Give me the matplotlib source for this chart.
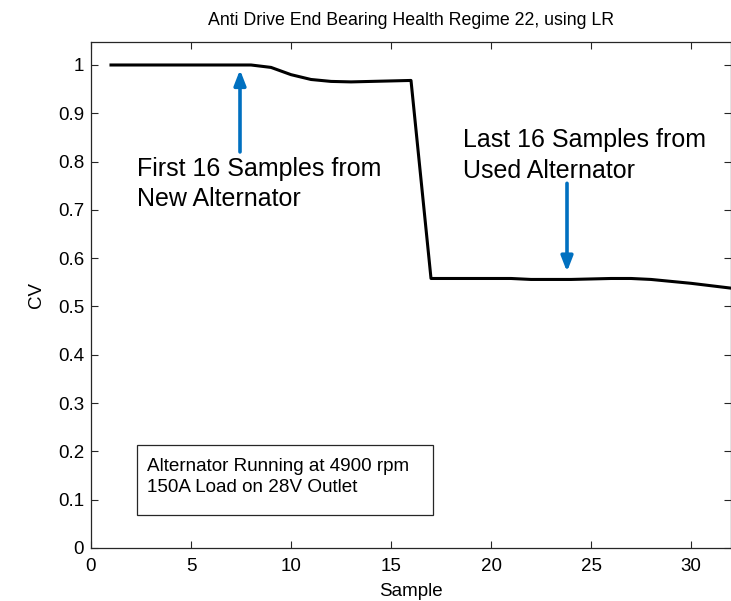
import matplotlib
matplotlib.use("Agg")
import matplotlib.pyplot as plt
from matplotlib.patches import Rectangle

plt.rcParams['font.family'] = ['Liberation Sans', 'DejaVu Sans']

samples = list(range(1, 33))
cv = [1.0, 1.0, 1.0, 1.0, 1.0, 1.0, 1.0, 1.0,
      0.995, 0.980, 0.970, 0.966, 0.965, 0.966, 0.967, 0.968,
      0.558, 0.558, 0.558, 0.558, 0.558, 0.556, 0.556, 0.556,
      0.557, 0.558, 0.558, 0.556, 0.552, 0.548, 0.543, 0.538]
xticks = [0, 5, 10, 15, 20, 25, 30]
yticks = [0, 0.1, 0.2, 0.3, 0.4, 0.5, 0.6, 0.7, 0.8, 0.9, 1.0]
ytick_labels = ['0', '0.1', '0.2', '0.3', '0.4', '0.5', '0.6', '0.7', '0.8', '0.9', '1']

title = "Anti Drive End Bearing Health Regime 22, using LR"
note_new = "First 16 Samples from\nNew Alternator"
note_used = "Last 16 Samples from\nUsed Alternator"
box_text = "Alternator Running at 4900 rpm\n150A Load on 28V Outlet"

fig = plt.figure(figsize=(7.31, 6.01), dpi=100)
ax = fig.add_axes([91/731, 53/601, 640/731, 506/601])
ax.plot(samples, cv, color='black', linewidth=2.2, solid_joinstyle='round')
ax.set_xlim(0, 32)
ax.set_ylim(0, 1.0476)
ax.set_xticks(xticks)
ax.set_yticks(yticks)
ax.set_yticklabels(ytick_labels)
ax.tick_params(direction='in', length=5, width=0.8, top=True, right=True,
               labelsize=13.5, colors='#262626', labelcolor='black')
ax.tick_params(axis='x', pad=7)
ax.tick_params(axis='y', pad=5)
for s in ax.spines.values():
    s.set_linewidth(0.9)
    s.set_color('#262626')

ax.set_title(title, fontsize=12.8, pad=12.5)
ax.set_xlabel("Sample", fontsize=13.5, labelpad=6)
ax.set_ylabel("CV", fontsize=13.5, labelpad=9)

blue = '#0070C0'
ax.annotate('', xy=(7.45, 0.99), xytext=(7.45, 0.82),
            arrowprops=dict(arrowstyle='-|>,head_length=0.9,head_width=0.35',
                            color=blue, lw=2.6, shrinkA=0, shrinkB=0))
ax.annotate('', xy=(23.8, 0.572), xytext=(23.8, 0.755),
            arrowprops=dict(arrowstyle='-|>,head_length=0.9,head_width=0.35',
                            color=blue, lw=2.6, shrinkA=0, shrinkB=0))
ax.text(2.3, 0.754, note_new, fontsize=18, va='center', ha='left', linespacing=1.32)
ax.text(18.6, 0.8126, note_used, fontsize=18, va='center', ha='left', linespacing=1.32)

ax.add_patch(Rectangle((46/640, 33/506), 296/640, 70/506, transform=ax.transAxes,
                       fill=False, edgecolor='#262626', linewidth=0.9))
ax.text(56/640, 0.1403, box_text, transform=ax.transAxes, fontsize=13.6,
        va='center', ha='left', linespacing=1.35)

fig.savefig("out.png", dpi=100)
